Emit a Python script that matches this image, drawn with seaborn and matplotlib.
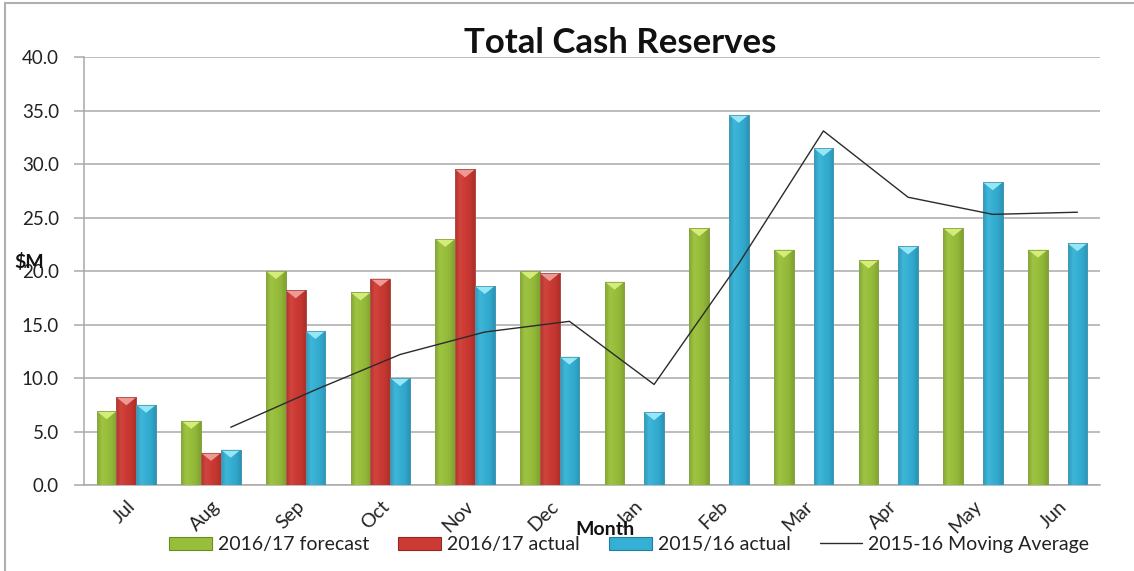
import numpy as np
import pandas as pd
import matplotlib
matplotlib.use("Agg")
import matplotlib.pyplot as plt
import seaborn as sns
from matplotlib.colors import LinearSegmentedColormap, to_rgb
from matplotlib.patches import Patch, Polygon
from matplotlib.lines import Line2D

# ---- data ($M) ----
months = ["Jul", "Aug", "Sep", "Oct", "Nov", "Dec",
          "Jan", "Feb", "Mar", "Apr", "May", "Jun"]
forecast_1617 = [6.9, 6.0, 20.0, 18.0, 23.0, 20.0, 19.0, 24.0, 22.0, 21.0, 24.0, 22.0]
actual_1617 = [8.2, 3.0, 18.2, 19.3, 29.5, 19.8, np.nan, np.nan, np.nan, np.nan, np.nan, np.nan]
actual_1516 = [7.5, 3.3, 14.4, 10.0, 18.6, 12.0, 6.8, 34.6, 31.5, 22.3, 28.3, 22.6]
moving_avg_1516 = [np.nan, 5.4, 8.9, 12.2, 14.3, 15.3, 9.4, 20.7, 33.1, 26.9, 25.3, 25.5]

series_names = ["2016/17 forecast", "2016/17 actual", "2015/16 actual"]
line_name = "2015-16 Moving Average"
y_ticks = [0, 5, 10, 15, 20, 25, 30, 35, 40]

# ---- style ----
base_colors = ["#98BE3C", "#CC3A34", "#35AFD3"]
light_colors = ["#D4EC78", "#EE9A94", "#95E6F7"]
dark_colors = ["#6A8C22", "#962520", "#1F7F9E"]
grid_color = "#A9A9A9"
font = ["Lato", "DejaVu Sans"]

sns.set_theme(style="white")
plt.rcParams["font.family"] = font


def mix(c1, c2, t):
    a, b = np.array(to_rgb(c1)), np.array(to_rgb(c2))
    return tuple(a * (1 - t) + b * t)


df = pd.DataFrame({"Month": months,
                   series_names[0]: forecast_1617,
                   series_names[1]: actual_1617,
                   series_names[2]: actual_1516})
long = df.melt(id_vars="Month", var_name="Series", value_name="Value")

fig = plt.figure(figsize=(11.34, 5.71), dpi=100)
ax = fig.add_axes([0.0741, 0.1506, 0.8959, 0.7494])

group_width = 0.70
sns.barplot(data=long, x="Month", y="Value", hue="Series", order=months,
            hue_order=series_names, palette=base_colors, width=group_width,
            gap=0, errorbar=None, legend=False, ax=ax, zorder=3)

ax.set_ylim(0, 40)
ax.set_xlim(-0.5, len(months) - 0.5)
ylim, xlim = ax.get_ylim(), ax.get_xlim()

# bevelled shading on each bar
bevel_depth = 0.75
for container, base, light, dark in zip(ax.containers, base_colors, light_colors, dark_colors):
    cmap = LinearSegmentedColormap.from_list(
        "bar", [mix(base, dark, 0.45), mix(base, light, 0.12), base,
                mix(base, dark, 0.15), mix(base, dark, 0.55)])
    grad = np.linspace(0, 1, 64).reshape(1, -1)
    for p in container.patches:
        h = p.get_height()
        if not np.isfinite(h) or h <= 0:
            continue
        x0, w = p.get_x(), p.get_width()
        p.set_edgecolor(dark)
        p.set_linewidth(0.6)
        im = ax.imshow(grad, cmap=cmap, aspect="auto", extent=[x0, x0 + w, 0, h],
                       zorder=3.1, interpolation="bicubic")
        im.set_clip_path(p)
        tri = Polygon([[x0, h], [x0 + w, h], [x0 + w / 2, h - bevel_depth]],
                      closed=True, facecolor=light, edgecolor="none", zorder=3.2)
        ax.add_patch(tri)
        ax.add_patch(Polygon([[x0, 0], [x0 + w, 0], [x0 + w, h], [x0, h]], closed=True,
                             facecolor="none", edgecolor=mix(dark, "white", 0.2),
                             linewidth=0.6, zorder=3.3))

ax.set_ylim(ylim)
ax.set_xlim(xlim)

# moving average drawn at the position of the 2015/16 bars
offset = group_width / len(series_names)
positions = np.arange(len(months)) + offset
ax.plot(positions, moving_avg_1516, color="#2b2b2b", linewidth=1.0, zorder=4)

# axes, grid and ticks
ax.set_yticks(y_ticks)
ax.set_yticklabels([f"{v:.1f}" for v in y_ticks], fontsize=13.5, color="#222222")
ax.yaxis.grid(True, color=grid_color, linewidth=1.1)
ax.set_axisbelow(True)
for side in ["top", "right"]:
    ax.spines[side].set_visible(False)
for side in ["left", "bottom"]:
    ax.spines[side].set_color(grid_color)
    ax.spines[side].set_linewidth(1.1)

ax.set_xticks(np.arange(len(months)))
ax.set_xticklabels(months, rotation=45, ha="right", va="top",
                   rotation_mode="anchor", fontsize=14, color="#222222")
ax.set_xticks(np.arange(len(months) + 1) - 0.5, minor=True)
ax.tick_params(axis="x", which="major", length=0, pad=9)
ax.tick_params(axis="x", which="minor", length=6, color=grid_color, width=1.1)
ax.tick_params(axis="y", which="major", length=7, color=grid_color, width=1.1, left=True, pad=11)

ax.set_xlabel("Month", fontsize=14, fontweight="bold", color="#111111")
ax.xaxis.set_label_coords(0.513, -0.085)
ax.set_ylabel("$M", fontsize=14, fontweight="bold", rotation=0, color="#111111")
ax.yaxis.set_label_coords(-0.054, 0.50)

fig.text(0.547, 0.925, "Total Cash Reserves", fontsize=25, fontweight="bold",
         ha="center", va="center", color="#111111")

# legend below the axes
handles = [Patch(facecolor=c, edgecolor=d, linewidth=0.8) for c, d in zip(base_colors, dark_colors)]
handles.append(Line2D([], [], color="#2b2b2b", linewidth=1.0))
fig.legend(handles, series_names + [line_name], loc="center", ncol=4,
           bbox_to_anchor=(0.555, 0.046), frameon=False, fontsize=14,
           handlelength=2.2, handleheight=0.7, handletextpad=0.3, columnspacing=1.5,
           labelcolor="#222222")

# outer frame on the left and top
fig.add_artist(Line2D([0.0045, 0.0045], [0, 0.995], transform=fig.transFigure,
                      color="#B0B0B0", linewidth=1.5))
fig.add_artist(Line2D([0.0045, 1.0], [0.995, 0.995], transform=fig.transFigure,
                      color="#B0B0B0", linewidth=1.5))

fig.savefig("out.png", dpi=100)
